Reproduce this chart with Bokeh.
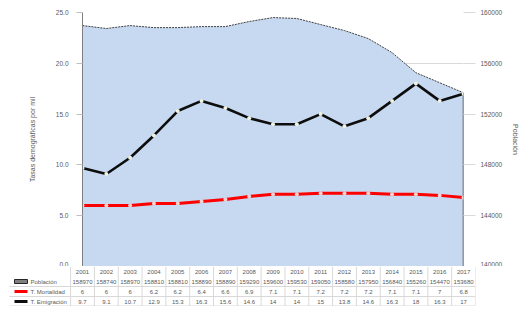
from bokeh.plotting import figure
from bokeh.models import Range1d, LinearAxis, FixedTicker, ColumnDataSource, NumeralTickFormatter
from bokeh.layouts import column
from bokeh.core.properties import value
from bokeh.embed import file_html
from bokeh.resources import INLINE

years = list(range(2001, 2018))
poblacion = [158970, 158740, 158970, 158810, 158810, 158890, 158890, 159290, 159600,
             159530, 159050, 158580, 157950, 156840, 155260, 154470, 153680]
t_mortalidad = [6.0, 6.0, 6.0, 6.2, 6.2, 6.4, 6.6, 6.9, 7.1, 7.1, 7.2, 7.2, 7.2, 7.1, 7.1, 7.0, 6.8]
t_emigracion = [9.7, 9.1, 10.7, 12.9, 15.3, 16.3, 15.6, 14.6, 14.0, 14.0, 15.0, 13.8, 14.6, 16.3, 18.0, 16.3, 17.0]
series_names = ["Población", "T. Mortalidad", "T. Emigración"]
left_ticks = [0, 5, 10, 15, 20, 25]
right_ticks = [140000, 144000, 148000, 152000, 156000, 160000]
left_title = "Tasas demográficas por mil"
right_title = "Población"

FONT = "Liberation Sans"
GRAY = "#595959"
AREA = "#c6d9f0"

W = 522
LEFT = 82
FRAME_W = 381
RIGHT = W - LEFT - FRAME_W
TOP = 12
MAIN_H = 266
TABLE_H = 40

p = figure(width=W, height=MAIN_H, output_backend="svg", toolbar_location=None,
           x_range=Range1d(years[0], years[-1]), y_range=Range1d(left_ticks[0], left_ticks[-1]),
           min_border_left=LEFT, min_border_right=RIGHT, min_border_top=TOP, min_border_bottom=0)
p.outline_line_color = None
p.extra_y_ranges = {"pop": Range1d(right_ticks[0], right_ticks[-1])}

p.xaxis.visible = False
p.xgrid.visible = False
p.ygrid.grid_line_color = "#d9d9d9"
p.ygrid.ticker = FixedTicker(ticks=left_ticks)

ya = p.yaxis[0]
ya.ticker = FixedTicker(ticks=left_ticks)
ya.formatter = NumeralTickFormatter(format="0.0")
ya.axis_line_color = "#7f7f7f"
ya.major_tick_line_color = "#bfbfbf"
ya.major_tick_out = 6
ya.major_tick_in = 0
ya.minor_tick_line_color = None
ya.major_label_text_font = FONT
ya.major_label_text_font_size = "6.5px"
ya.major_label_text_color = GRAY
ya.major_label_standoff = 8
ya.axis_label = left_title
ya.axis_label_text_font = FONT
ya.axis_label_text_font_size = "7px"
ya.axis_label_text_font_style = "normal"
ya.axis_label_text_color = GRAY
ya.axis_label_standoff = 17

ra = LinearAxis(y_range_name="pop", ticker=FixedTicker(ticks=right_ticks),
                formatter=NumeralTickFormatter(format="0"))
ra.axis_line_color = None
ra.major_tick_line_color = "#d9d9d9"
ra.major_tick_out = 12
ra.major_tick_in = 0
ra.minor_tick_line_color = None
ra.major_label_text_font = FONT
ra.major_label_text_font_size = "6.5px"
ra.major_label_text_color = GRAY
ra.major_label_standoff = 5
ra.axis_label = right_title
ra.axis_label_text_font = FONT
ra.axis_label_text_font_size = "7px"
ra.axis_label_text_font_style = "normal"
ra.axis_label_text_color = GRAY
ra.axis_label_standoff = 7
p.add_layout(ra, "right")

src = ColumnDataSource(dict(x=years, pop=poblacion, base=[right_ticks[0]] * len(years),
                            m=t_mortalidad, e=t_emigracion))
p.varea(x="x", y1="base", y2="pop", source=src, fill_color=AREA, y_range_name="pop")
p.line(x="x", y="pop", source=src, line_color="#404040", line_width=1, line_dash="2 1",
       y_range_name="pop")
p.segment(x0=[years[-1]], y0=[right_ticks[0]], x1=[years[-1]], y1=[poblacion[-1]],
          line_color="#404040", line_width=1.5, y_range_name="pop")

p.line(x="x", y="m", source=src, line_color="#ff0000", line_width=3)
p.scatter(x="x", y="m", source=src, marker="circle", size=4, fill_color="#f4d0d0", line_color=None)
p.line(x="x", y="e", source=src, line_color="#0d0d0d", line_width=2.6)
p.scatter(x="x", y="e", source=src, marker="circle", size=4, fill_color="#eef2e0", line_color=None)

# data table
step = FRAME_W / (len(years) - 1)
def px(x):
    return years[0] + (x - LEFT) / step

T_RIGHT = int(round(W - (LEFT + FRAME_W + step / 2)))
t = figure(width=W, height=TABLE_H, output_backend="svg", toolbar_location=None,
           x_range=Range1d(px(0), years[-1] + 0.5), y_range=Range1d(0, 4),
           min_border_left=0, min_border_right=T_RIGHT, min_border_top=0, min_border_bottom=0)
t.outline_line_color = None
t.xaxis.visible = False
t.yaxis.visible = False
t.grid.visible = False
for fig in (p, t):
    try:
        fig.frame_align = False
    except Exception:
        pass

GRID = "#d9d9d9"
t.segment(x0=[px(9)] * 3, y0=[0.05, 1, 2], x1=[years[-1] + 0.5] * 3, y1=[0.05, 1, 2],
          line_color=GRID, line_width=1)
vx = [y - 0.5 for y in years] + [years[-1] + 0.5]
t.segment(x0=vx, y0=[0] * len(vx), x1=vx, y1=[4] * len(vx), line_color=GRID, line_width=1)

tf = dict(text_font=value(FONT), text_font_size="6px", text_color=GRAY, text_align="center",
          text_baseline="middle")
t.text(x=years, y=[3.5] * len(years), text=[str(y) for y in years], **tf)
t.text(x=years, y=[2.5] * len(years), text=[str(v) for v in poblacion], **tf)
t.text(x=years, y=[1.5] * len(years), text=[f"{v:g}" for v in t_mortalidad], **tf)
t.text(x=years, y=[0.5] * len(years), text=[f"{v:g}" for v in t_emigracion], **tf)

t.quad(left=[px(14)], right=[px(27)], bottom=[2.3], top=[2.7], fill_color="#7f7f7f", line_color="#262626")
t.segment(x0=[px(14)], y0=[1.5], x1=[px(27)], y1=[1.5], line_color="#ff0000", line_width=3)
t.segment(x0=[px(14)], y0=[0.5], x1=[px(27)], y1=[0.5], line_color="#0d0d0d", line_width=3)
t.text(x=[px(30)] * 3, y=[2.5, 1.5, 0.5], text=series_names, text_font=value(FONT),
       text_font_size="6px", text_color=GRAY, text_align="left", text_baseline="middle")

layout = column(p, t, spacing=0)
open("out.html", "w").write(file_html(layout, INLINE))
